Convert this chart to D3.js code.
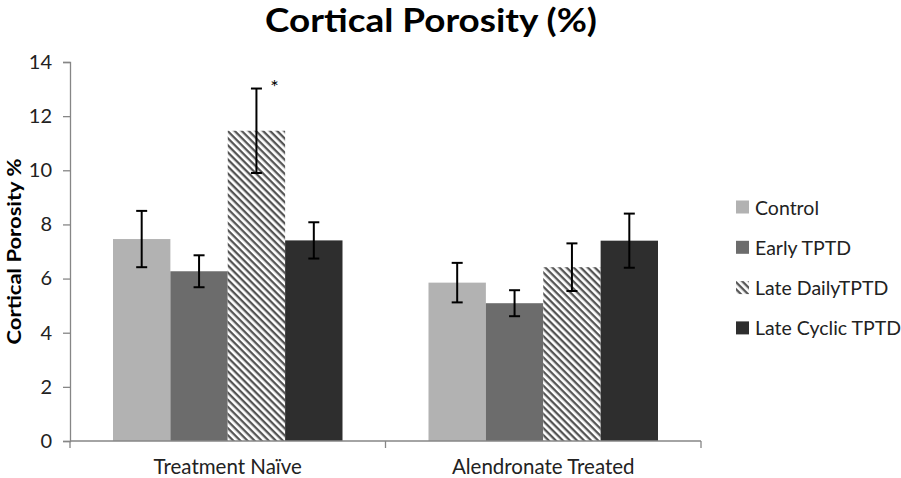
<!DOCTYPE html>
<html>
<head>
<meta charset="utf-8">
<script src="https://cdn.jsdelivr.net/npm/d3@7"></script>
<style>
    body { margin: 0; background: #fff; }
    svg text { font-family: Lato, "Open Sans", sans-serif; }
</style>
</head>
<body>
<svg id="chart" width="901" height="478"></svg>
<script>
const groups = ['Treatment Naïve', 'Alendronate Treated'];
const seriesNames = ['Control', 'Early TPTD', 'Late DailyTPTD', 'Late Cyclic TPTD'];
// means, one row per group, in series order
const means = [
    [7.46, 6.27, 11.46, 7.41],
    [5.85, 5.09, 6.42, 7.40]
];
// symmetric error (half length of each bar)
const errors = [
    [1.04, 0.59, 1.56, 0.67],
    [0.73, 0.48, 0.88, 1.00]
];
const yTicks = [0, 2, 4, 6, 8, 10, 12, 14];

const colors = ['#b2b2b2', '#6c6c6c', 'url(#hatch)', '#2e2e2e'];

const margin = {top: 62, right: 200, bottom: 37, left: 70};
const width = 901, height = 478;

const svg = d3.select('#chart');

// diagonal hatch for the late daily series
const defs = svg.append('defs');
const pat = defs.append('pattern')
    .attr('id', 'hatch')
    .attr('patternUnits', 'userSpaceOnUse')
    .attr('width', 5)
    .attr('height', 5)
    .attr('patternTransform', 'rotate(45)');
pat.append('rect').attr('width', 5).attr('height', 5).attr('fill', '#fff');
pat.append('rect').attr('width', 5).attr('height', 2.3).attr('fill', '#555');

const yScale = d3.scaleLinear()
    .domain([0, 14])
    .range([height - margin.bottom, margin.top]);

const x0 = d3.scaleBand()
    .domain(groups)
    .range([margin.left, width - margin.right]);

const x1 = d3.scaleBand()
    .domain(seriesNames)
    .range([43, x0.bandwidth() - 43]);

// title
svg.append('text')
    .attr('x', 431)
    .attr('y', 32)
    .attr('text-anchor', 'middle')
    .attr('font-size', 33)
    .attr('font-weight', 'bold')
    .attr('textLength', 332)
    .attr('lengthAdjust', 'spacingAndGlyphs')
    .text('Cortical Porosity (%)');

// y axis
const yAxis = svg.append('g')
    .attr('transform', `translate(${margin.left},0)`)
    .call(d3.axisLeft(yScale).tickValues(yTicks).tickSize(7).tickPadding(11));
yAxis.selectAll('.tick text').attr('font-size', 20).attr('fill', '#222');
yAxis.selectAll('line, .domain').attr('stroke', '#868686').attr('stroke-width', 1.3);

svg.append('text')
    .attr('transform', `translate(14,${(margin.top + height - margin.bottom) / 2}) rotate(-90)`)
    .attr('text-anchor', 'middle')
    .attr('dominant-baseline', 'central')
    .attr('font-size', 18)
    .attr('font-weight', 'bold')
    .attr('textLength', 186)
    .attr('lengthAdjust', 'spacingAndGlyphs')
    .text('Cortical Porosity %');

// bars
const groupG = svg.append('g').selectAll('g')
    .data(groups)
    .join('g')
    .attr('transform', d => `translate(${x0(d)},0)`);

const cells = groupG.selectAll('g')
    .data((g, gi) => seriesNames.map((s, si) => ({s, v: means[gi][si], e: errors[gi][si], i: si})))
    .join('g');

cells.append('rect')
    .attr('x', d => x1(d.s))
    .attr('width', x1.bandwidth())
    .attr('y', d => yScale(d.v))
    .attr('height', d => yScale(0) - yScale(d.v))
    .attr('fill', d => colors[d.i]);

// error bars
const cx = d => x1(d.s) + x1.bandwidth() / 2;
cells.append('line')
    .attr('x1', cx).attr('x2', cx)
    .attr('y1', d => yScale(d.v + d.e))
    .attr('y2', d => yScale(d.v - d.e))
    .attr('stroke', '#000').attr('stroke-width', 2);
cells.append('line')
    .attr('x1', d => cx(d) - 5.5).attr('x2', d => cx(d) + 5.5)
    .attr('y1', d => yScale(d.v + d.e)).attr('y2', d => yScale(d.v + d.e))
    .attr('stroke', '#000').attr('stroke-width', 2);
cells.append('line')
    .attr('x1', d => cx(d) - 5.5).attr('x2', d => cx(d) + 5.5)
    .attr('y1', d => yScale(d.v - d.e)).attr('y2', d => yScale(d.v - d.e))
    .attr('stroke', '#000').attr('stroke-width', 2);

// significance marker on late daily, treatment naive
svg.append('text')
    .attr('x', x0(groups[0]) + x1(seriesNames[2]) + x1.bandwidth() / 2 + 18)
    .attr('y', yScale(means[0][2] + errors[0][2]) + 5)
    .attr('text-anchor', 'middle')
    .attr('font-size', 20)
    .text('*');

// x axis
const xAxis = svg.append('g')
    .attr('transform', `translate(0,${yScale(0)})`);
xAxis.append('line')
    .attr('x1', margin.left).attr('x2', width - margin.right)
    .attr('stroke', '#868686').attr('stroke-width', 1.3);
xAxis.selectAll('.tk')
    .data([margin.left, ...groups.map(g => x0(g) + x0.bandwidth())])
    .join('line')
    .attr('class', 'tk')
    .attr('x1', d => d).attr('x2', d => d)
    .attr('y1', 0).attr('y2', 7)
    .attr('stroke', '#868686').attr('stroke-width', 1.3);
xAxis.selectAll('text')
    .data(groups)
    .join('text')
    .attr('x', d => x0(d) + x0.bandwidth() / 2)
    .attr('y', 33)
    .attr('text-anchor', 'middle')
    .attr('font-size', 20.5)
    .attr('fill', '#222')
    .text(d => d);

// legend
const legend = svg.append('g')
    .attr('transform', 'translate(736,207)')
    .selectAll('g')
    .data(seriesNames)
    .join('g')
    .attr('transform', (d, i) => `translate(0,${i * 40.3})`);
legend.append('rect')
    .attr('x', 0).attr('y', -6.5)
    .attr('width', 13).attr('height', 13)
    .attr('fill', (d, i) => colors[i]);
legend.append('text')
    .attr('x', 19)
    .attr('dominant-baseline', 'central')
    .attr('font-size', 19.5)
    .attr('fill', '#222')
    .text(d => d);
</script>
</body>
</html>
